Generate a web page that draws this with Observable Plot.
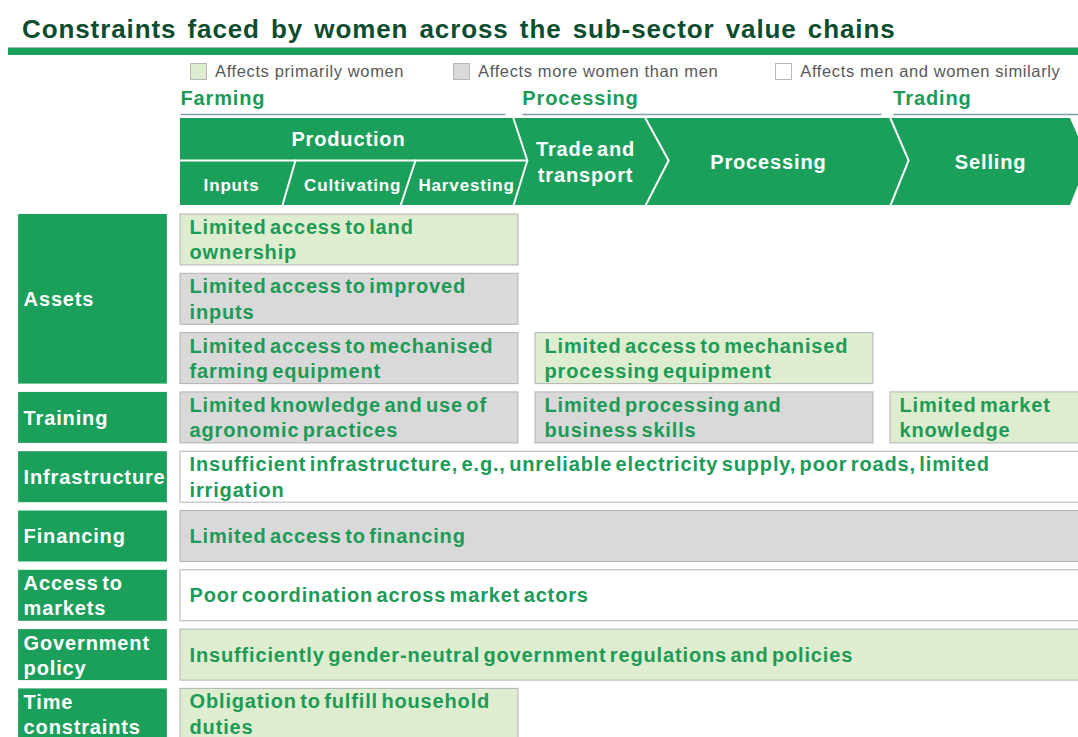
<!DOCTYPE html>
<html>
<head>
<meta charset="utf-8">
<script src="https://cdn.jsdelivr.net/npm/d3@7"></script>
<script src="https://cdn.jsdelivr.net/npm/@observablehq/plot@0.6"></script>
<style>
  html, body { margin: 0; padding: 0; background: #fff; overflow: hidden; }
  body { width: 1078px; height: 737px; font-family: "Liberation Sans", Arial, sans-serif; }
  #head { position: relative; height: 84px; }
  #title { position: absolute; left: 22px; top: 16px; line-height: 26px; font-size: 26px; font-weight: bold;
           color: #0d4d2f; letter-spacing: 0.9px; word-spacing: 3px; white-space: nowrap; }
  #rule { position: absolute; left: 8px; right: 0; top: 47px; height: 7px; background: #1ba05c; border-top: 1px solid #9dbdc0; }
  #legend { position: absolute; left: 190px; top: 62px; display: flex; align-items: center; }
  .item { display: flex; align-items: center; gap: 8px; font-size: 16.5px; line-height: 18px; color: #595959; letter-spacing: 0.62px; white-space: nowrap; }
  .item + .item { margin-left: 49px; }
  .item:last-child { margin-left: 57px; }
  .swatch { width: 15px; height: 15px; border: 1px solid #b8b8b8; }
  #chart svg text { letter-spacing: 0.85px; word-spacing: -3px; }
  #chart g[aria-label="sub steps"] text { letter-spacing: 0.25px; }
  #chart g[aria-label="row labels"] text { letter-spacing: 0.6px; }
</style>
</head>
<body>
<div id="head">
  <div id="title"></div>
  <div id="rule"></div>
  <div id="legend"></div>
</div>
<div id="chart"></div>
<script>
// ---------- data ----------
const titleText = "Constraints faced by women across the sub-sector value chains";

const legendKeys   = ["women", "more", "similar"];
const legendLabels = ["Affects primarily women", "Affects more women than men", "Affects men and women similarly"];
const legendColors = ["#deedd0", "#d9d9d9", "#ffffff"];

const stageNames = ["Farming", "Processing", "Trading"];
const stageFrom  = [0, 0.963, 2.008];
const stageTo    = [0.915, 1.975, 2.7];

const stepLabels  = ["Production", "Trade and\ntransport", "Processing", "Selling"];
const stepCenters = [0.473, 1.141, 1.656, 2.282];
const stepEdgeX   = [0.938, 1.310, 2.000, 2.507];   // chevron edge at top / bottom
const stepTipX    = [0.977, 1.375, 2.051, 2.558];   // chevron point

const subLabels   = ["Inputs", "Cultivating", "Harvesting"];
const subCenters  = [0.144, 0.485, 0.806];
const slashBottom = [0.287, 0.620];
const slashTop    = [0.324, 0.662];

const rowLabels = ["Assets", "Training", "Infrastructure", "Financing", "Access to\nmarkets", "Government\npolicy", "Time\nconstraints"];
const rowStart  = [0, 3, 4, 5, 6, 7, 8];
const rowSpan   = [3, 1, 1, 1, 1, 1, 1];

const cellText = [
  "Limited access to land\nownership",
  "Limited access to improved\ninputs",
  "Limited access to mechanised\nfarming equipment",
  "Limited access to mechanised\nprocessing equipment",
  "Limited knowledge and use of\nagronomic practices",
  "Limited processing and\nbusiness skills",
  "Limited market\nknowledge",
  "Insufficient infrastructure, e.g., unreliable electricity supply, poor roads, limited\nirrigation",
  "Limited access to financing",
  "Poor coordination across market actors",
  "Insufficiently gender-neutral government regulations and policies",
  "Obligation to fulfill household\nduties"
];
const cellRow  = [0, 1, 2, 2, 3, 3, 3, 4, 5, 6, 7, 8];
const cellFrom = [0, 0, 0, 1, 0, 1, 2, 0, 0, 0, 0, 0];
const cellTo   = [1, 1, 1, 2, 1, 2, 3, 3, 3, 3, 3, 1];
const cellType = ["women", "more", "more", "women", "more", "more", "women", "similar", "more", "similar", "women", "women"];

// ---------- layout / style ----------
const GREEN = "#1ba05c", TEXT_GREEN = "#1c9b56", LINE = "#7f9eab";
const ROW_H = 0.86, COL_W = 0.952;
const LABEL_X0 = -0.456, LABEL_X1 = -0.037;
const HY = {label: -1.956, under: -1.686, top: -1.619, mid: -0.911, bottom: -0.152, prod: -1.29, sub: -0.495, step: -0.915};

// ---------- HTML title + legend ----------
document.getElementById("title").textContent = titleText;
const legend = d3.select("#legend");
legendKeys.forEach((k, i) => {
  const it = legend.append("div").attr("class", "item");
  it.append("div").attr("class", "swatch").style("background", legendColors[i]);
  it.append("span").text(legendLabels[i]);
});

// ---------- tables ----------
const cells = cellText.map((t, i) => ({text: t, row: cellRow[i], c0: cellFrom[i], c1: cellTo[i], type: cellType[i]}));
const rows = rowLabels.map((l, i) => ({label: l, start: rowStart[i], span: rowSpan[i]}));
const stages = stageNames.map((n, i) => ({name: n, from: stageFrom[i], to: stageTo[i]}));
const steps = stepLabels.map((l, i) => ({label: l, x: stepCenters[i], y: i === 0 ? HY.prod : HY.step}));
const subs = subLabels.map((l, i) => ({label: l, x: subCenters[i]}));

const seps = [];
stepEdgeX.slice(0, 3).forEach((e, i) => {
  seps.push({id: "e" + i, x: e, y: HY.top}, {id: "e" + i, x: stepTipX[i], y: HY.mid}, {id: "e" + i, x: e, y: HY.bottom});
});
seps.push({id: "h", x: 0, y: HY.mid}, {id: "h", x: stepTipX[0], y: HY.mid});
slashBottom.forEach((b, i) => {
  seps.push({id: "s" + i, x: b, y: HY.bottom}, {id: "s" + i, x: slashTop[i], y: HY.mid});
});
const tip = [
  {x: stepEdgeX[3], y: HY.top},
  {x: stepTipX[3], y: HY.mid},
  {x: stepEdgeX[3], y: HY.bottom}
];

const chart = Plot.plot({
  width: 1078,
  height: 653,
  margin: 0,
  x: {domain: [0, 3], range: [180, 1245], axis: null},
  y: {domain: [0, 9], range: [130, 663.7], axis: null},
  color: {domain: legendKeys, range: legendColors},
  style: {fontFamily: "'Liberation Sans', Arial, sans-serif", overflow: "hidden", background: "white"},
  marks: [
    // stage group labels + underlines
    Plot.link(stages, {x1: "from", x2: "to", y1: HY.under, y2: HY.under, stroke: LINE, strokeWidth: 1.6}),
    Plot.text(stages, {x: "from", y: HY.label, text: "name", textAnchor: "start", fill: TEXT_GREEN, fontWeight: "bold", fontSize: 20}),
    // chevron band
    Plot.rect([0], {x1: 0, x2: 3, y1: HY.top, y2: HY.bottom, fill: GREEN}),
    Plot.areaX(tip, {y: "y", x1: "x", x2: 3, fill: "white", curve: "linear"}),
    Plot.line(seps, {x: "x", y: "y", z: "id", stroke: "white", strokeWidth: 2, curve: "linear"}),
    Plot.text(steps, {x: "x", y: "y", text: "label", fill: "white", fontWeight: "bold", fontSize: 20, lineHeight: 1.3}),
    Plot.text(subs, {x: "x", y: HY.sub, text: "label", fill: "white", fontWeight: "bold", fontSize: 17, ariaLabel: "sub steps"}),
    // row labels
    Plot.rect(rows, {x1: LABEL_X0, x2: LABEL_X1, y1: "start", y2: d => d.start + d.span - (1 - ROW_H), fill: GREEN}),
    Plot.text(rows, {x: LABEL_X0, y: d => d.start + (d.span - (1 - ROW_H)) / 2, text: "label", textAnchor: "start", dx: 5, dy: -1,
                     fill: "white", fontWeight: "bold", fontSize: 20, lineHeight: 1.25, ariaLabel: "row labels"}),
    // constraint cells
    Plot.rect(cells, {x1: "c0", x2: d => d.c1 - (1 - COL_W), y1: "row", y2: d => d.row + ROW_H, fill: "type", stroke: "#b3b3b3", strokeWidth: 1}),
    Plot.text(cells, {x: "c0", y: d => d.row + ROW_H / 2, text: "text", textAnchor: "start", dx: 9, dy: -1.5,
                      fill: TEXT_GREEN, fontWeight: "bold", fontSize: 20, lineHeight: 1.27})
  ]
});
document.getElementById("chart").append(chart);
</script>
</body>
</html>
